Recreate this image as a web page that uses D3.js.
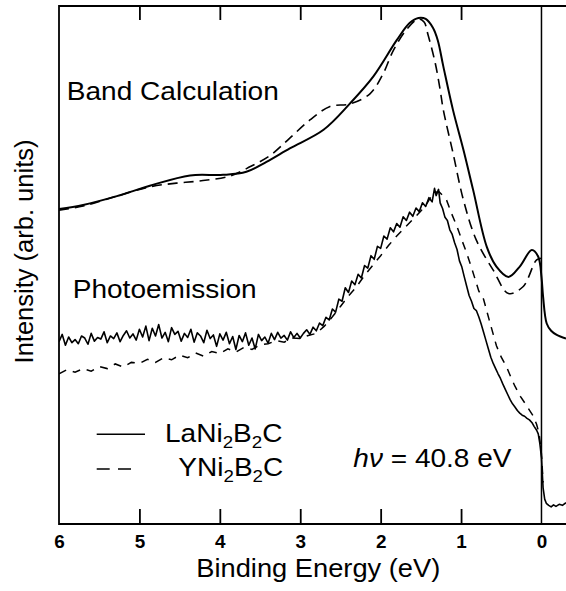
<!DOCTYPE html>
<html><head><meta charset="utf-8">
<script src="https://cdn.jsdelivr.net/npm/d3@7"></script>
<style>
html,body{margin:0;padding:0;background:#fff;}
svg{display:block;font-family:"Liberation Sans",Arial,Helvetica,sans-serif;}
</style></head>
<body>
<svg id="chart" width="566" height="591"></svg>
<script>
// ---- data (binding energy in eV, intensity in arbitrary units) ----
const energyTicks = [6, 5, 4, 3, 2, 1, 0];
const innerTicks = [5, 4, 3, 2, 1];

const bandLa = [[6.00,60.8],[5.70,61.6],[5.28,63.3],[4.87,65.3],[4.37,67.3],[3.96,67.4],[3.67,68.0],[3.42,69.9],[3.13,72.5],[2.71,76.1],[2.38,81.2],[2.09,86.4],[1.80,93.4],[1.64,96.7],[1.53,97.7],[1.44,97.5],[1.35,95.8],[1.29,93.4],[1.22,88.3],[1.10,79.9],[0.97,72.2],[0.85,64.5],[0.68,53.5],[0.56,49.7],[0.41,47.7],[0.27,49.7],[0.12,52.9],[0.04,51.6],[0.00,47.7],[-0.02,43.9],[-0.065,38.7],[-0.12,37.3],[-0.19,36.5],[-0.305,35.8]];

const bandY = [[6.00,60.6],[5.70,61.4],[5.28,63.3],[4.87,65.1],[4.54,65.8],[4.21,66.3],[3.87,67.2],[3.62,69.0],[3.37,71.2],[3.13,74.5],[2.88,78.0],[2.63,80.6],[2.38,81.1],[2.13,83.1],[1.97,86.9],[1.84,91.5],[1.68,95.4],[1.53,97.5],[1.46,96.9],[1.41,94.4],[1.32,88.9],[1.26,83.8],[1.22,79.9],[1.10,71.6],[0.97,62.5],[0.81,54.8],[0.60,49.0],[0.41,44.5],[0.23,45.8],[0.06,51.0],[0.00,51.3]];

const photoLa = [[6.00,35.2],[5.96,36.6],[5.92,34.5],[5.88,36.1],[5.84,35.0],[5.80,35.6],[5.76,34.8],[5.72,36.3],[5.68,35.9],[5.64,34.7],[5.60,36.8],[5.56,35.3],[5.52,36.0],[5.48,35.7],[5.44,37.1],[5.40,35.0],[5.36,36.3],[5.32,35.8],[5.28,36.9],[5.24,35.2],[5.20,36.4],[5.16,37.3],[5.12,35.9],[5.08,36.7],[5.04,35.5],[5.00,37.6],[4.96,36.1],[4.92,38.2],[4.88,35.4],[4.84,37.8],[4.80,36.3],[4.76,38.5],[4.72,35.9],[4.68,37.0],[4.64,35.2],[4.60,37.9],[4.56,36.6],[4.52,37.2],[4.48,35.3],[4.44,36.8],[4.40,36.0],[4.36,37.6],[4.32,35.1],[4.28,36.9],[4.24,36.3],[4.20,35.0],[4.16,37.4],[4.12,35.8],[4.08,36.5],[4.04,34.3],[4.00,36.7],[3.96,35.5],[3.92,37.0],[3.88,34.8],[3.84,36.2],[3.80,33.7],[3.76,36.4],[3.72,35.2],[3.68,36.9],[3.64,34.5],[3.60,35.9],[3.56,33.8],[3.52,36.6],[3.48,35.4],[3.44,36.1],[3.40,34.9],[3.36,36.8],[3.32,35.6],[3.28,37.0],[3.24,35.9],[3.20,36.4],[3.16,35.5],[3.12,37.1],[3.08,36.0],[3.04,36.8],[3.00,35.9],
[2.96,36.8],[2.92,37.5],[2.88,36.6],[2.84,38.0],[2.80,37.3],[2.76,38.8],[2.72,38.3],[2.68,39.9],[2.64,39.4],[2.60,41.5],[2.56,40.9],[2.52,43.4],[2.48,43.0],[2.44,45.6],[2.40,44.7],[2.36,46.9],[2.32,46.2],[2.28,48.2],[2.24,47.5],[2.20,49.9],[2.16,49.4],[2.12,51.8],[2.08,51.1],[2.04,53.6],[2.00,53.2],[1.96,55.6],[1.92,55.0],[1.88,57.2],[1.84,56.4],[1.80,58.0],[1.76,57.3],[1.72,59.3],[1.68,58.6],[1.64,60.2],[1.60,59.4],[1.56,61.0],[1.52,60.3],[1.48,62.0],[1.44,61.3],[1.40,63.0],[1.36,62.2],[1.33,64.8],[1.31,63.4],[1.28,64.6],[1.26,62.0],
[1.23,60.9],[1.20,59.2],[1.17,58.6],[1.14,56.8],[1.11,55.9],[1.08,54.3],[1.05,53.0],[1.02,50.8],[0.99,49.6],[0.96,47.7],[0.93,45.9],[0.90,44.1],[0.87,43.0],[0.84,41.6],[0.81,41.2],[0.78,40.0],[0.75,38.6],[0.72,37.0],[0.69,35.4],[0.66,33.8],[0.63,32.2],[0.60,31.0],[0.57,30.0],[0.54,29.0],[0.51,28.1],[0.48,27.0],[0.45,26.0],[0.42,25.0],[0.39,24.0],[0.36,23.2],[0.33,22.6],[0.30,21.9],[0.27,21.4],[0.24,21.0],[0.21,20.8],[0.18,20.4],[0.15,20.1],[0.12,19.6],[0.09,18.8],[0.06,18.1],[0.04,17.4],[0.02,15.5],[0.00,12.8],[-0.02,7.0],[-0.04,4.8],[-0.06,4.0],[-0.09,3.6],[-0.12,3.3],[-0.15,3.7],[-0.18,3.4],[-0.22,3.8],[-0.26,3.6],[-0.305,4.1]];

const photoY = [[6.00,29.0],[5.90,29.8],[5.80,29.3],[5.70,30.0],[5.60,29.5],[5.50,30.4],[5.40,30.0],[5.30,30.9],[5.20,30.3],[5.10,31.2],[5.00,31.0],[4.90,31.8],[4.80,31.2],[4.70,32.1],[4.60,31.7],[4.50,32.6],[4.40,32.1],[4.30,33.0],[4.20,32.4],[4.10,33.3],[4.00,32.9],[3.90,33.8],[3.80,33.2],[3.70,34.1],[3.60,33.7],[3.50,34.6],[3.40,34.8],[3.30,35.4],[3.20,35.1],[3.10,35.9],[3.00,35.8],[2.90,36.4],[2.80,36.8],[2.70,38.2],[2.60,40.0],[2.50,42.0],[2.40,44.0],[2.30,45.8],[2.20,48.0],[2.10,49.9],[2.00,51.8],[1.90,53.8],[1.80,55.6],[1.70,57.2],[1.60,58.8],[1.50,60.4],[1.42,62.0],[1.36,63.5],[1.32,64.0],[1.28,64.2],[1.24,63.6],[1.18,62.5],[1.12,60.0],[1.05,57.4],[0.99,54.8],[0.93,52.3],[0.86,49.0],[0.78,45.0],[0.72,43.4],[0.65,39.4],[0.56,34.4],[0.50,32.2],[0.43,30.2],[0.38,28.3],[0.33,26.6],[0.26,24.6],[0.20,23.2],[0.15,22.0],[0.10,20.8],[0.06,19.2],[0.03,17.5],[0.00,13.5],[-0.02,8.0]];

// ---- layout ----
const svg = d3.select("#chart");
const pLeft = 59, pRight = 566, pTop = 6, pBottom = 524;
const x = d3.scaleLinear().domain([6, -0.305]).range([pLeft, pRight]);
const y = d3.scaleLinear().domain([0, 100]).range([pBottom, pTop]);
const FONT = '"Liberation Sans",Arial,Helvetica,sans-serif';

svg.append("defs").append("clipPath").attr("id","plotclip")
  .append("rect").attr("x",pLeft).attr("y",pTop).attr("width",pRight-pLeft).attr("height",pBottom-pTop);

// frame
const frame = svg.append("g").attr("stroke","#000").attr("stroke-width",1.8).attr("fill","none");
frame.append("line").attr("x1",pLeft).attr("x2",pLeft).attr("y1",pTop-0.9).attr("y2",pBottom+0.9);
frame.append("line").attr("x1",pLeft).attr("x2",pRight).attr("y1",pTop).attr("y2",pTop);
frame.append("line").attr("x1",pLeft).attr("x2",pRight).attr("y1",pBottom).attr("y2",pBottom);
frame.append("line").attr("x1",x(0)).attr("x2",x(0)).attr("y1",pTop).attr("y2",pBottom).attr("stroke-width",1.5);

// ticks (inside)
const bAxis = svg.append("g").attr("transform",`translate(0,${pBottom})`)
  .call(d3.axisBottom(x).tickValues(innerTicks).tickSizeInner(-15).tickSizeOuter(0).tickFormat(""));
const tAxis = svg.append("g").attr("transform",`translate(0,${pTop})`)
  .call(d3.axisTop(x).tickValues(innerTicks).tickSizeInner(-14).tickSizeOuter(0).tickFormat(""));
[bAxis,tAxis].forEach(g=>{ g.select(".domain").remove(); g.selectAll(".tick line").attr("stroke","#000").attr("stroke-width",1.8); });

// tick labels
const lAxis = svg.append("g").attr("transform",`translate(0,${pBottom})`)
  .call(d3.axisBottom(x).tickValues(energyTicks).tickSize(0).tickPadding(11.5).tickFormat(d3.format("d")));
lAxis.select(".domain").remove();
lAxis.selectAll(".tick text").attr("font-family",FONT).attr("font-size",18).attr("font-weight","bold")
  .attr("fill","#000").attr("transform","scale(1.05,1)");

// curves
const plot = svg.append("g").attr("clip-path","url(#plotclip)").attr("fill","none").attr("stroke","#000");
const smooth = d3.line().x(d=>x(d[0])).y(d=>y(d[1])).curve(d3.curveCatmullRom.alpha(0.5));
const rough = d3.line().x(d=>x(d[0])).y(d=>y(d[1]));

plot.append("path").datum(bandY).attr("d",smooth).attr("stroke-width",1.6).attr("stroke-dasharray","10,6");
plot.append("path").datum(bandLa).attr("d",smooth).attr("stroke-width",2);
plot.append("path").datum(photoY).attr("d",rough).attr("stroke-width",1.5).attr("stroke-dasharray","8,7");
plot.append("path").datum(photoLa).attr("d",rough).attr("stroke-width",1.6).attr("stroke-linejoin","round");

// text helpers
function label(xp, yp, sx, size){
  return svg.append("text").attr("transform",`translate(${xp},${yp}) scale(${sx},1)`)
    .attr("font-family",FONT).attr("font-size",size).attr("fill","#000");
}
label(66.8, 100, 1.1, 25.5).text("Band Calculation");
label(72.7, 298.3, 1.1, 25.5).text("Photoemission");

// legend
svg.append("line").attr("x1",96.7).attr("x2",145).attr("y1",434.3).attr("y2",434.3).attr("stroke","#000").attr("stroke-width",1.6);
svg.append("line").attr("x1",96.7).attr("x2",132).attr("y1",469).attr("y2",469).attr("stroke","#000").attr("stroke-width",1.6).attr("stroke-dasharray","13,8.3");
function formula(t, parts){
  parts.forEach(p=>{
    if(p.sub){ t.append("tspan").attr("font-size",17).attr("dy",6).text(p.s); }
    else { t.append("tspan").attr("dy",p.back?-6:0).text(p.s); }
  });
}
formula(label(165, 441.7, 1.1, 25.5), [{s:"LaNi"},{s:"2",sub:true},{s:"B",back:true},{s:"2",sub:true},{s:"C",back:true}]);
formula(label(178.3, 476, 1.1, 25.5), [{s:"YNi"},{s:"2",sub:true},{s:"B",back:true},{s:"2",sub:true},{s:"C",back:true}]);

const hv = label(353.3, 466.7, 1.1, 25.5);
hv.append("tspan").attr("font-style","italic").text("hν");
hv.append("tspan").text(" = 40.8 eV");

// axis titles
svg.append("text").attr("transform","translate(33.3,251.5) rotate(-90)").attr("text-anchor","middle")
  .attr("font-family",FONT).attr("font-size",25.5).attr("fill","#000").text("Intensity (arb. units)");
svg.append("text").attr("transform","translate(318.3,576.7) scale(1.07,1)").attr("text-anchor","middle")
  .attr("font-family",FONT).attr("font-size",25.5).attr("fill","#000").text("Binding Energy (eV)");
</script>
</body></html>
